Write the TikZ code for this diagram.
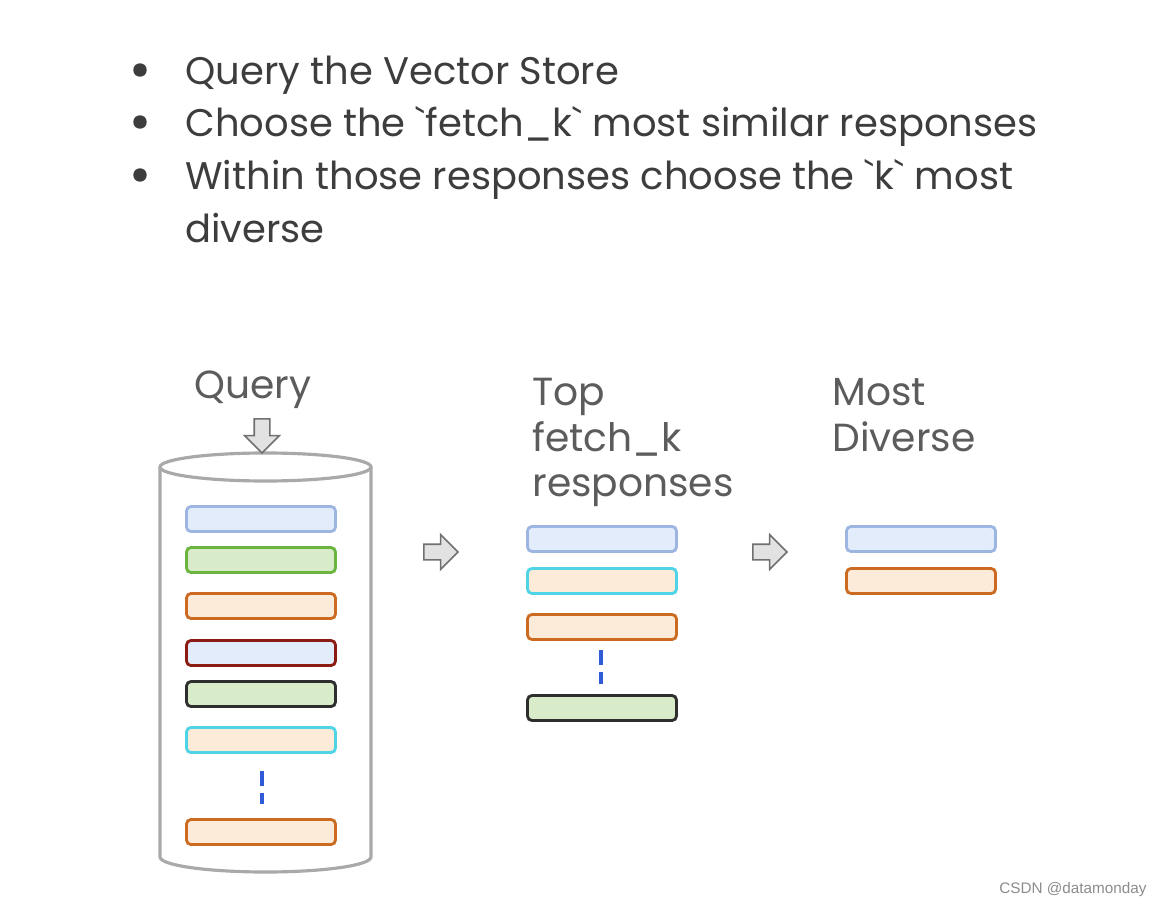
\documentclass[tikz,border=0pt]{standalone}
\usepackage{fontspec}
\setmainfont{Poppins}[Ligatures=TeXOff]
\newfontfamily\wmfont{Liberation Sans}
\usetikzlibrary{shapes.arrows}

\definecolor{txtdark}{HTML}{3D3D3D}
\definecolor{txtgray}{HTML}{5C5C5C}
\definecolor{cylgray}{HTML}{A9A9A9}
\definecolor{arrfill}{HTML}{E2E2E2}
\definecolor{arrdraw}{HTML}{707070}
\definecolor{dashblue}{HTML}{2F5CD6}
\definecolor{dBlue}{HTML}{9CB5E1}
\definecolor{fBlue}{HTML}{E3ECFB}
\definecolor{dGreen}{HTML}{6BB43E}
\definecolor{fGreen}{HTML}{D9ECC9}
\definecolor{dOrange}{HTML}{CC6A22}
\definecolor{fOrange}{HTML}{FDEBDA}
\definecolor{dRed}{HTML}{8B1C12}
\definecolor{dBlack}{HTML}{2E2E2E}
\definecolor{dCyan}{HTML}{4FD3E6}

\newcommand{\btick}{\symbol{96}}

\begin{document}
\begin{tikzpicture}[x=0.02cm,y=-0.02cm,line width=0.5pt,
	bullettext/.style={anchor=base west,inner sep=0,text=txtdark,font=\fontsize{21.9}{26}\selectfont},
	label/.style={anchor=base west,inner sep=0,text=txtgray,font=\fontsize{22.3}{26}\selectfont},
	bar/.style={draw,rounded corners=2.5pt,line width=1.6pt,minimum width=2.98cm,minimum height=0.5cm,inner sep=0},
	blockarrow/.style={single arrow,draw=arrdraw,fill=arrfill,line width=0.9pt,inner sep=0.14cm,
		minimum height=0.68cm,single arrow head extend=0.19cm},
	gap/.style={draw=dashblue,line width=2.6pt,dash pattern=on 0.3cm off 0.14cm}]

\fill[white] (0,0) rectangle (1161,906);
\useasboundingbox (0,0) rectangle (1161,906);

% bullet list
\foreach \y/\t [count=\i] in {84/Query the Vector Store,
	136/Choose the \btick fetch\_k\btick{} most similar responses,
	189/Within those responses choose the \btick k\btick{} most}{
	\node[circle,fill=txtdark,inner sep=0,minimum size=0.27cm] (dot\i) at (140,\y-14) {};
	\node[bullettext] (item\i) at (185,\y) {\t};
}
\node[bullettext] (item3b) at (185,242) {diverse};

% vector store
\node[anchor=base,inner sep=0,text=txtgray,font=\fontsize{22.3}{26}\selectfont] (query) at (253,398) {Query};
\draw[cylgray,line width=1.8pt] (265.5,467) ellipse (105.5 and 14);
\draw[cylgray,line width=1.8pt] (160,467) -- (160,857) arc (180:0:105.5 and 15) -- (371,467);
\node[blockarrow,shape border rotate=270] (qarrow) at (262,432) {};

\foreach \y/\c/\f [count=\i] in {519/dBlue/fBlue,560/dGreen/fGreen,606/dOrange/fOrange,
	653/dRed/fBlue,694/dBlack/fGreen,740/dCyan/fOrange,832/dOrange/fOrange}
	\node[bar,draw=\c,fill=\f] (db\i) at (261,\y) {};
\draw[gap] (262,771) -- (262,804);

% top fetch_k
\node[blockarrow] (arr1) at (437,552) {};
\foreach \y/\t [count=\i] in {405/Top,451/fetch\_k,496/responses}
	\node[label] (topk\i) at (532,\y) {\t};
\foreach \y/\c/\f [count=\i] in {539/dBlue/fBlue,581/dCyan/fOrange,627/dOrange/fOrange,708/dBlack/fGreen}
	\node[bar,draw=\c,fill=\f] (fk\i) at (602,\y) {};
\draw[gap] (601,650) -- (601,684);

% most diverse
\node[blockarrow] (arr2) at (766,552) {};
\foreach \y/\t [count=\i] in {405/Most,451/Diverse}
	\node[label] (div\i) at (832,\y) {\t};
\foreach \y/\c/\f [count=\i] in {539/dBlue/fBlue,581/dOrange/fOrange}
	\node[bar,draw=\c,fill=\f] (mmr\i) at (921,\y) {};

\node[anchor=base east,inner sep=0,text=black!45,font=\wmfont\fontsize{8.7}{10}\selectfont] (mark) at (1147,893) {CSDN @datamonday};

\end{tikzpicture}
\end{document}
